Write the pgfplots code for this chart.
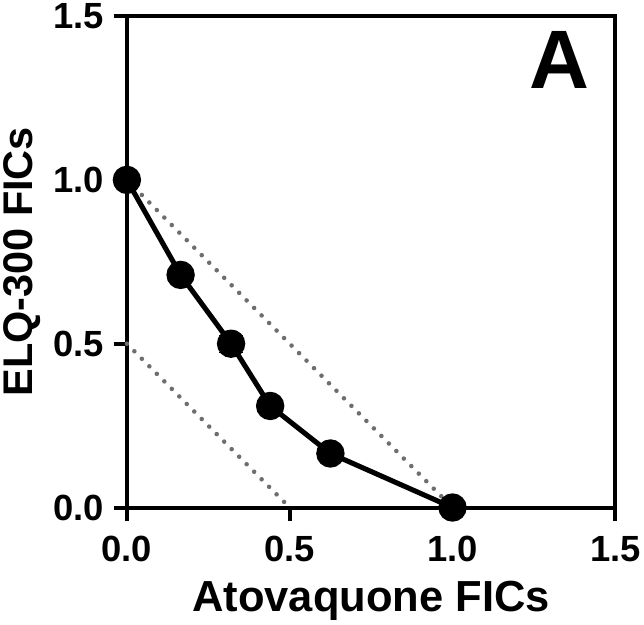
\documentclass[border=0pt]{standalone}
\usepackage{pgfplots}
\pgfplotsset{compat=1.18}
\usepackage{fontspec}
\setmainfont{Liberation Sans}
\definecolor{dotgray}{RGB}{110,110,110}
\begin{document}
\begin{tikzpicture}
\begin{axis}[
  scale only axis,
  width=483pt, height=486pt,
  xmin=0, xmax=1.5, ymin=0, ymax=1.5,
  xtick={0,0.5,1,1.5}, ytick={0,0.5,1,1.5},
  xticklabels={0.0,0.5,1.0,1.5},
  yticklabels={0.0,0.5,1.0,1.5},
  axis line style={line width=4pt},
  tick style={line width=4pt, black},
  tick align=outside,
  major tick length=13pt,
  xtick pos=bottom, ytick pos=left,
  ticklabel style={font=\fontsize{36}{36}\selectfont\bfseries},
  xticklabel style={yshift=-12pt},
  yticklabel style={xshift=-6pt},
  xlabel={Atovaquone FICs},
  ylabel={ELQ-300 FICs},
  xlabel style={font=\fontsize{43}{43}\selectfont\bfseries, yshift=-12pt},
  ylabel style={font=\fontsize{41}{41}\selectfont\bfseries, yshift=6pt},
  clip=false,
]
\addplot[black, line width=5pt, mark=*, mark size=11.5pt,
  error bars/.cd, y dir=both, y explicit, error bar style={line width=3pt}]
  coordinates {
  (0,1) +- (0,0.01)
  (0.165,0.71) +- (0,0.02)
  (0.32,0.50) +- (0,0.025)
  (0.44,0.31) +- (0,0.02)
  (0.625,0.165) +- (0,0.025)
  (1,0) +- (0,0.01)
  };
\addplot[dotgray, line width=4.5pt, dash pattern=on 0pt off 10.5pt, line cap=round] coordinates {(0,1) (1,0)};
\addplot[dotgray, line width=4.5pt, dash pattern=on 0pt off 10.5pt, line cap=round] coordinates {(0,0.5) (0.5,0)};
\node[anchor=north east, font=\fontsize{82}{82}\selectfont\bfseries] at (rel axis cs:0.955,0.975) {A};
\end{axis}
\end{tikzpicture}
\end{document}
